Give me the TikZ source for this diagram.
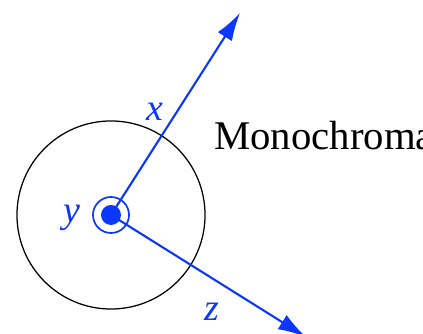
\documentclass[tikz,border=0pt]{standalone}
\usepackage{fontspec}
\setmainfont{Liberation Serif}
\usetikzlibrary{arrows.meta}
\definecolor{axblue}{RGB}{10,55,250}

\begin{document}
\begin{tikzpicture}[x=0.025cm,y=0.025cm,
  ax/.style={draw=axblue,line width=1.5pt,-{Latex[length=7mm,width=4.2mm]}},
  lab/.style={text=axblue,font=\fontsize{27}{30}\selectfont\itshape,inner sep=0pt},
  ring/.style={circle,draw=axblue,line width=1.2pt,minimum size=0.9cm,inner sep=0pt},
  dot/.style={circle,fill=axblue,minimum size=0.5cm,inner sep=0pt}]

\clip (0,0) rectangle (423,334);
\useasboundingbox (0,0) rectangle (423,334);

% fibre cross-section
\node[circle,draw=black,line width=0.9pt,minimum size=4.7cm,inner sep=0pt] (fib) at (111,119) {};
\node[ring] (rg) at (111,119) {};
\node[dot] (o) at (111,119) {};

% axes
\coordinate (xt) at (240,321);
\coordinate (zt) at (306,-3);
\draw[ax] (o.center)--(xt);
\draw[ax] (o.center)--(zt);

\node[lab] (lx) at (155,222) {x};
\node[lab] (ly) at (72,116) {y};
\node[lab] (lz) at (212,22) {z};

\node[anchor=base west,inner sep=0pt,font=\fontsize{29}{32}\selectfont] (mono) at (214,184) {Monochroma};
\end{tikzpicture}
\end{document}
